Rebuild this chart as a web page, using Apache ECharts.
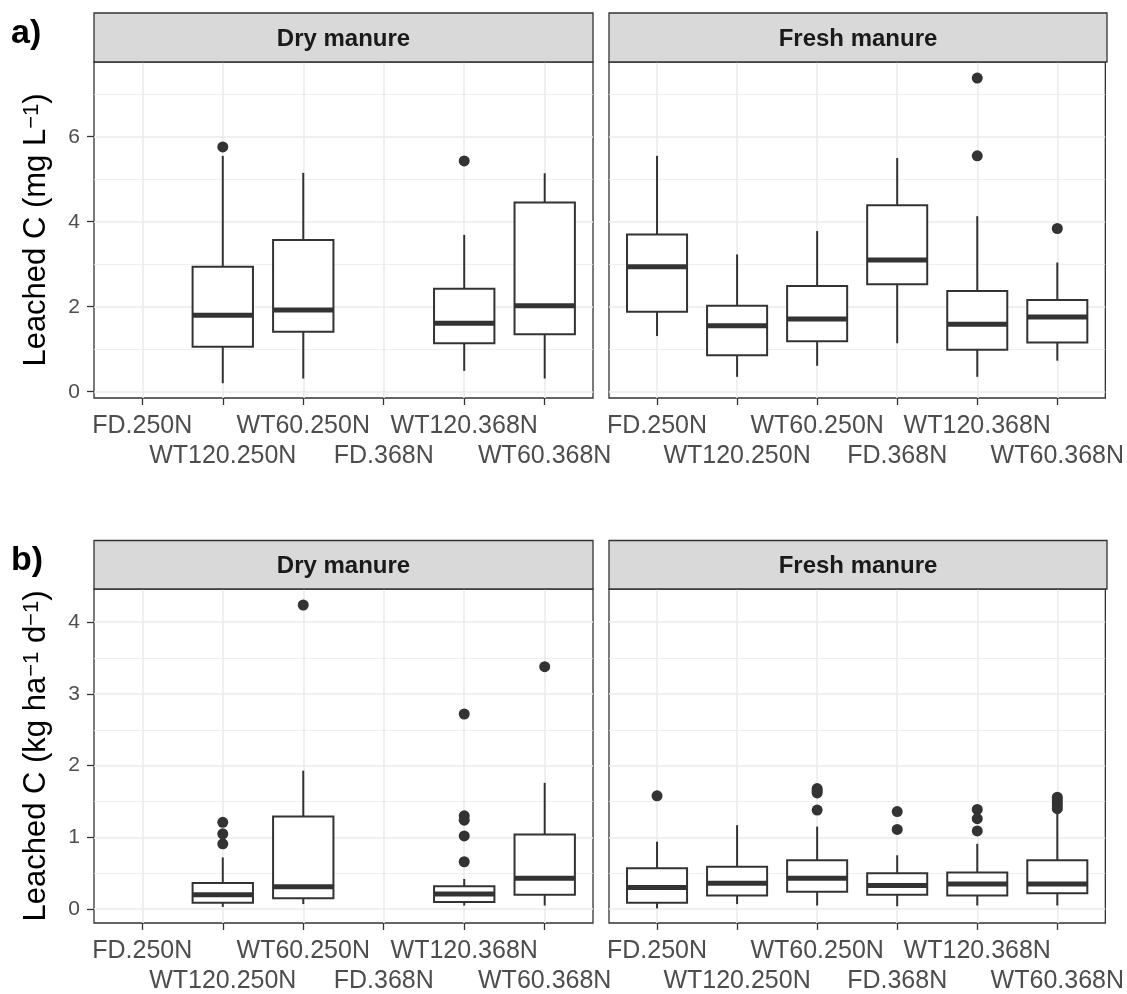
<!DOCTYPE html>
<html>
<head>
<meta charset="utf-8">
<script src="https://cdn.jsdelivr.net/npm/echarts@6/dist/echarts.min.js"></script>
<style>
html,body{margin:0;padding:0;background:#fff;}
#chart{width:1127px;height:994px;}
</style>
</head>
<body>
<div id="chart"></div>
<script>
// ---------- DATA ----------
const categories = ['FD.250N','WT120.250N','WT60.250N','FD.368N','WT120.368N','WT60.368N'];
const facets = ['Dry manure','Fresh manure'];

// y-axis ticks
const yMajorA = [0, 2, 4, 6];
const yMinorA = [1, 3, 5, 7];
const yMajorB = [0, 1, 2, 3, 4];
const yMinorB = [0.5, 1.5, 2.5, 3.5];

// boxes: [lower whisker, Q1, median, Q3, upper whisker]
const boxDryA = [null, [0.20,1.06,1.80,2.94,5.55], [0.31,1.41,1.92,3.57,5.15], null, [0.49,1.14,1.61,2.42,3.69], [0.31,1.35,2.02,4.45,5.14]];
const outDryA = [[], [5.76], [], [], [5.43], []];

const boxFreshA = [[1.31,1.88,2.94,3.70,5.55], [0.35,0.86,1.55,2.02,3.23], [0.61,1.19,1.71,2.49,3.78], [1.14,2.53,3.10,4.39,5.50], [0.35,0.99,1.59,2.37,4.13], [0.73,1.16,1.76,2.16,3.04]];
const outFreshA = [[], [], [], [], [7.38,5.55], [3.84]];

const boxDryB = [null, [0.03,0.09,0.20,0.365,0.72], [0.07,0.15,0.31,1.29,1.93], null, [0.05,0.10,0.21,0.32,0.42], [0.05,0.20,0.43,1.04,1.76]];
const outDryB = [[], [0.91,1.05,1.21], [4.24], [], [0.66,1.02,1.24,1.30,2.72], [3.38]];

const boxFreshB = [[0.01,0.09,0.30,0.57,0.94], [0.07,0.19,0.36,0.59,1.17], [0.05,0.24,0.43,0.68,1.15], [0.04,0.20,0.33,0.50,0.75], [0.05,0.19,0.35,0.51,0.91], [0.05,0.22,0.35,0.68,1.33]];
const outFreshB = [[1.58], [], [1.38,1.62,1.65,1.68], [1.11,1.36], [1.09,1.26,1.39], [1.40,1.44,1.48,1.52,1.56]];

const yRangeA = [-0.148, 7.758];
const yRangeB = [-0.194, 4.463];

// ---------- BUILD ----------
const FONT = '"Liberation Sans", Arial, Helvetica, sans-serif';
const DARK = '#333333';
const GRIDC = '#EBEBEB';
const xPos = categories.map((c, i) => i + 1);
const xRow1 = xPos.filter(v => v % 2 === 1);
const xRow2 = xPos.filter(v => v % 2 === 0);

const panels = [
  {left: 94,  top: 62,  width: 499, height: 336, yMajor: yMajorA, yMinor: yMinorA, range: yRangeA, box: boxDryA,   out: outDryA,   first: true,  name: 'Leached C (mg L{sup|\u22121})'},
  {left: 609, top: 62,  width: 498, height: 336, yMajor: yMajorA, yMinor: yMinorA, range: yRangeA, box: boxFreshA, out: outFreshA, first: false},
  {left: 94,  top: 589, width: 499, height: 336, yMajor: yMajorB, yMinor: yMinorB, range: yRangeB, box: boxDryB,   out: outDryB,   first: true,  name: 'Leached C (kg ha{sup|\u22121} d{sup|\u22121})'},
  {left: 609, top: 589, width: 498, height: 336, yMajor: yMajorB, yMinor: yMinorB, range: yRangeB, box: boxFreshB, out: outFreshB, first: false}
];

const grids = [], xAxes = [], yAxes = [], series = [], graphics = [];
const labelStyle = {fontSize: 25, color: '#4D4D4D', fontFamily: FONT, showMinLabel: true, showMaxLabel: true, hideOverlap: false,
  formatter: v => categories[Math.round(v) - 1]};

panels.forEach((p, i) => {
  grids.push({left: p.left, top: p.top, width: p.width, height: p.height,
    show: true, borderColor: DARK, borderWidth: 1.3, backgroundColor: '#fff', containLabel: false});

  const xi = xAxes.length;
  // row 1 labels + all ticks
  xAxes.push({
    type: 'value', gridIndex: i, min: 0.4, max: 6.6, position: 'bottom',
    axisLine: {show: false, onZero: false}, splitLine: {show: false},
    axisTick: {show: true, length: 7, customValues: xPos, lineStyle: {color: DARK, width: 1.3}},
    axisLabel: Object.assign({customValues: xRow1, margin: 16}, labelStyle)
  });
  // row 2 labels (dodged)
  xAxes.push({
    type: 'value', gridIndex: i, min: 0.4, max: 6.6, position: 'bottom', offset: 0,
    axisLine: {show: false, onZero: false}, splitLine: {show: false}, axisTick: {show: false},
    axisLabel: Object.assign({customValues: xRow2, margin: 46}, labelStyle)
  });

  yAxes.push({
    type: 'value', gridIndex: i, min: p.range[0], max: p.range[1],
    axisLine: {show: false, onZero: false},
    splitLine: {show: false},
    axisTick: {show: p.first, length: 7, customValues: p.yMajor, lineStyle: {color: DARK, width: 1.3}},
    axisLabel: {show: p.first, customValues: p.yMajor, fontSize: 21, color: '#4D4D4D', fontFamily: FONT, margin: 14,
      showMinLabel: true, showMaxLabel: true, formatter: v => String(v)},
    name: p.first ? p.name : '',
    nameLocation: 'middle', nameGap: 42,
    nameTextStyle: {fontSize: 31, color: '#000', fontFamily: FONT,
      rich: {sup: {fontSize: 22, color: '#000', fontFamily: FONT, verticalAlign: 'top'}}}
  });

  // grid lines through the axis scales
  const ml = [];
  p.yMinor.forEach(v => ml.push({yAxis: v, lineStyle: {width: 0.8, color: GRIDC, type: 'solid'}}));
  p.yMajor.forEach(v => ml.push({yAxis: v, lineStyle: {width: 1.6, color: GRIDC, type: 'solid'}}));
  xPos.forEach(v => ml.push({xAxis: v, lineStyle: {width: 1.6, color: GRIDC, type: 'solid'}}));
  series.push({
    type: 'line', xAxisIndex: xi, yAxisIndex: i, data: [], silent: true, z: 1,
    markLine: {silent: true, symbol: ['none', 'none'], label: {show: false}, animation: false, z: 1, data: ml}
  });

  // boxes
  const bdata = [];
  p.box.forEach((b, k) => { if (b) bdata.push([k + 1].concat(b)); });
  series.push({
    type: 'custom', xAxisIndex: xi, yAxisIndex: i, z: 6, silent: true, animation: false,
    data: bdata,
    encode: {x: 0, y: [1, 2, 3, 4, 5]},
    renderItem: function (params, api) {
      const x = api.value(0);
      const v = [1, 2, 3, 4, 5].map(d => api.value(d));
      const hw = 0.375;
      const pMin = api.coord([x, v[0]]);
      const pQ1 = api.coord([x, v[1]]);
      const pMed = api.coord([x, v[2]]);
      const pQ3 = api.coord([x, v[3]]);
      const pMax = api.coord([x, v[4]]);
      const l = api.coord([x - hw, v[2]])[0];
      const r = api.coord([x + hw, v[2]])[0];
      return {type: 'group', children: [
        {type: 'line', shape: {x1: pMin[0], y1: pMin[1], x2: pQ1[0], y2: pQ1[1]}, style: {stroke: DARK, lineWidth: 2}},
        {type: 'line', shape: {x1: pQ3[0], y1: pQ3[1], x2: pMax[0], y2: pMax[1]}, style: {stroke: DARK, lineWidth: 2}},
        {type: 'rect', shape: {x: l, y: pQ3[1], width: r - l, height: pQ1[1] - pQ3[1]}, style: {fill: '#fff', stroke: DARK, lineWidth: 2}},
        {type: 'line', shape: {x1: l, y1: pMed[1], x2: r, y2: pMed[1]}, style: {stroke: DARK, lineWidth: 5}}
      ]};
    }
  });

  // outliers
  const odata = [];
  p.out.forEach((arr, k) => arr.forEach(v => odata.push([k + 1, v])));
  series.push({
    type: 'scatter', xAxisIndex: xi, yAxisIndex: i, z: 7, silent: true, animation: false,
    data: odata, symbol: 'circle', symbolSize: 11, itemStyle: {color: DARK, opacity: 1}
  });

  // strip
  const stripTop = i < 2 ? 13 : 540.5;
  graphics.push({type: 'rect', z: 10, shape: {x: p.left, y: stripTop, width: p.width, height: p.top - stripTop},
    style: {fill: '#D9D9D9', stroke: DARK, lineWidth: 1.3}});
  graphics.push({type: 'text', z: 11, x: p.left + p.width / 2, y: i < 2 ? 39 : 566.5,
    style: {text: facets[i % 2], font: 'bold 24px ' + FONT, fill: '#1A1A1A', align: 'center', verticalAlign: 'middle'}});
});

graphics.push({type: 'text', z: 11, x: 11, y: 33.5, style: {text: 'a)', font: 'bold 34px ' + FONT, fill: '#000', align: 'left', verticalAlign: 'middle'}});
graphics.push({type: 'text', z: 11, x: 11, y: 561, style: {text: 'b)', font: 'bold 34px ' + FONT, fill: '#000', align: 'left', verticalAlign: 'middle'}});

const chart = echarts.init(document.getElementById('chart'), null, {renderer: 'canvas'});
chart.setOption({
  backgroundColor: '#fff',
  animation: false,
  textStyle: {fontFamily: FONT},
  grid: grids, xAxis: xAxes, yAxis: yAxes, series: series, graphic: graphics
});
</script>
</body>
</html>
